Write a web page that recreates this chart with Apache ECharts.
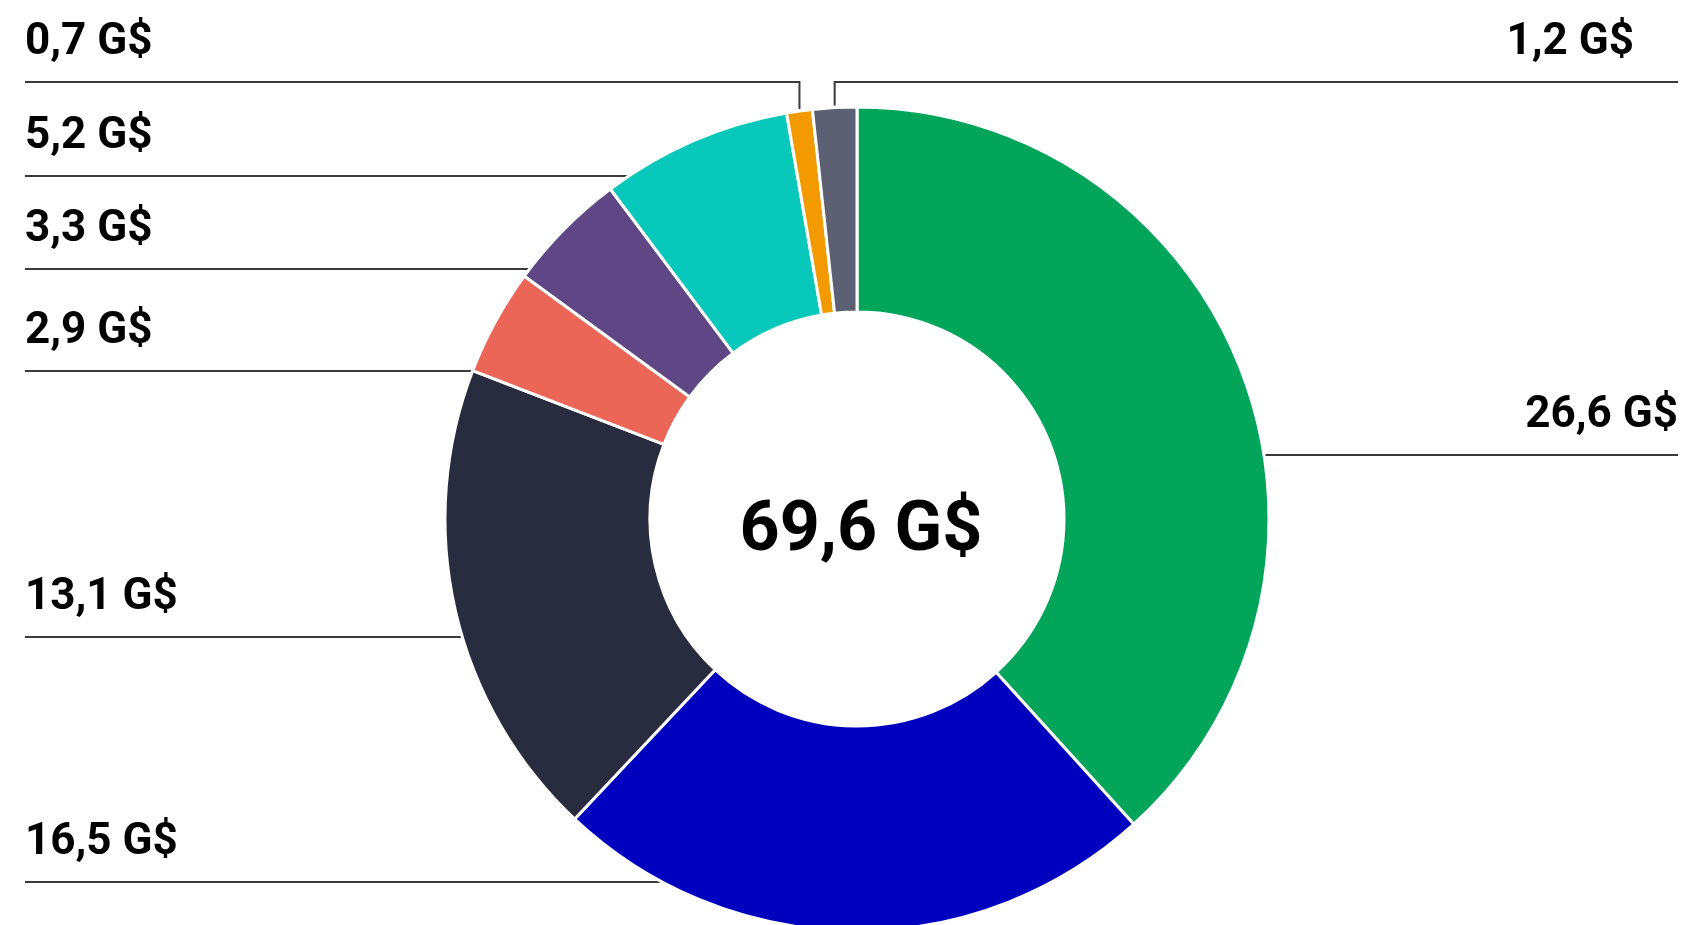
<!DOCTYPE html>
<html>
<head>
<meta charset="utf-8">
<title>69,6 G$</title>
<script src="https://cdn.jsdelivr.net/npm/echarts@6/dist/echarts.min.js"></script>
<style>
  html, body { margin: 0; padding: 0; background: #fff; }
  #chart { width: 1686px; height: 925px; }
</style>
</head>
<body>
<div id="chart"></div>
<script>
// slices clockwise from 12 o'clock
const names = ["Segment 1", "Segment 2", "Segment 3", "Segment 4", "Segment 5", "Segment 6", "Segment 7", "Segment 8"];
const values = [26.6, 16.5, 13.1, 2.9, 3.3, 5.2, 0.7, 1.2];
const total = 69.6;
const colors = ["#02a55a", "#0000bf", "#292c3f", "#ec6657", "#5f4785", "#08c7bb", "#f29a00", "#5d5f72"];

// label layout (where each label's rule sits)
const labelSide = ["right", "left", "left", "left", "left", "left", "left", "right"];
const labelLineY = [455, 882, 637, 371, 269, 176, 82, 82];
const labelTextX = [1678, 25, 25, 25, 25, 25, 25, 1634];
const labelBent = [false, false, false, false, false, false, true, true];

const cx = 857, cy = 519, r0 = 207, r1 = 412;
const leftX = 25, rightX = 1678;

const fmt = v => v.toFixed(1).replace(".", ",") + " G$";

const sum = values.reduce((a, b) => a + b, 0);
const midAngle = [];
let acc = 0;
for (const v of values) {
  midAngle.push(((acc + v / 2) / sum) * Math.PI * 2);
  acc += v;
}

const chart = echarts.init(document.getElementById("chart"));
chart.setOption({
  animation: false,
  graphic: [
    {
      type: "text",
      x: cx + 4,
      y: cy + 13,
      style: {
        text: fmt(total),
        fontFamily: "Roboto",
        fontWeight: "bold",
        fontSize: 70,
        fill: "#000",
        textAlign: "center",
        textVerticalAlign: "middle"
      }
    }
  ],
  series: [
    {
      type: "pie",
      center: [cx, cy],
      radius: [r0, r1],
      startAngle: 90,
      clockwise: true,
      avoidLabelOverlap: false,
      emphasis: { disabled: true },
      itemStyle: { borderColor: "#fff", borderWidth: 3 },
      label: {
        show: true,
        position: "outside",
        formatter: p => fmt(p.value),
        fontFamily: "Roboto",
        fontWeight: "bold",
        fontSize: 44,
        color: "#000"
      },
      labelLine: {
        show: true,
        lineStyle: { color: "#3a3a3a", width: 2 }
      },
      labelLayout: function (params) {
        const i = params.dataIndex;
        const y = labelLineY[i];
        const isLeft = labelSide[i] === "left";
        const ex = isLeft ? leftX : rightX;
        let pts;
        if (labelBent[i]) {
          const px = cx + r1 * Math.sin(midAngle[i]);
          const py = cy - r1 * Math.cos(midAngle[i]);
          pts = [[px, py - 2], [px, y], [ex, y]];
        } else {
          const dx = Math.sqrt(r1 * r1 - (y - cy) * (y - cy));
          const px = isLeft ? cx - dx : cx + dx;
          pts = [[px, y], [(px + ex) / 2, y], [ex, y]];
        }
        return {
          x: labelTextX[i],
          y: y - 39,
          align: isLeft ? "left" : "right",
          verticalAlign: "middle",
          labelLinePoints: pts
        };
      },
      data: values.map((v, i) => ({
        name: names[i],
        value: v,
        itemStyle: { color: colors[i] }
      }))
    }
  ]
});
</script>
</body>
</html>
